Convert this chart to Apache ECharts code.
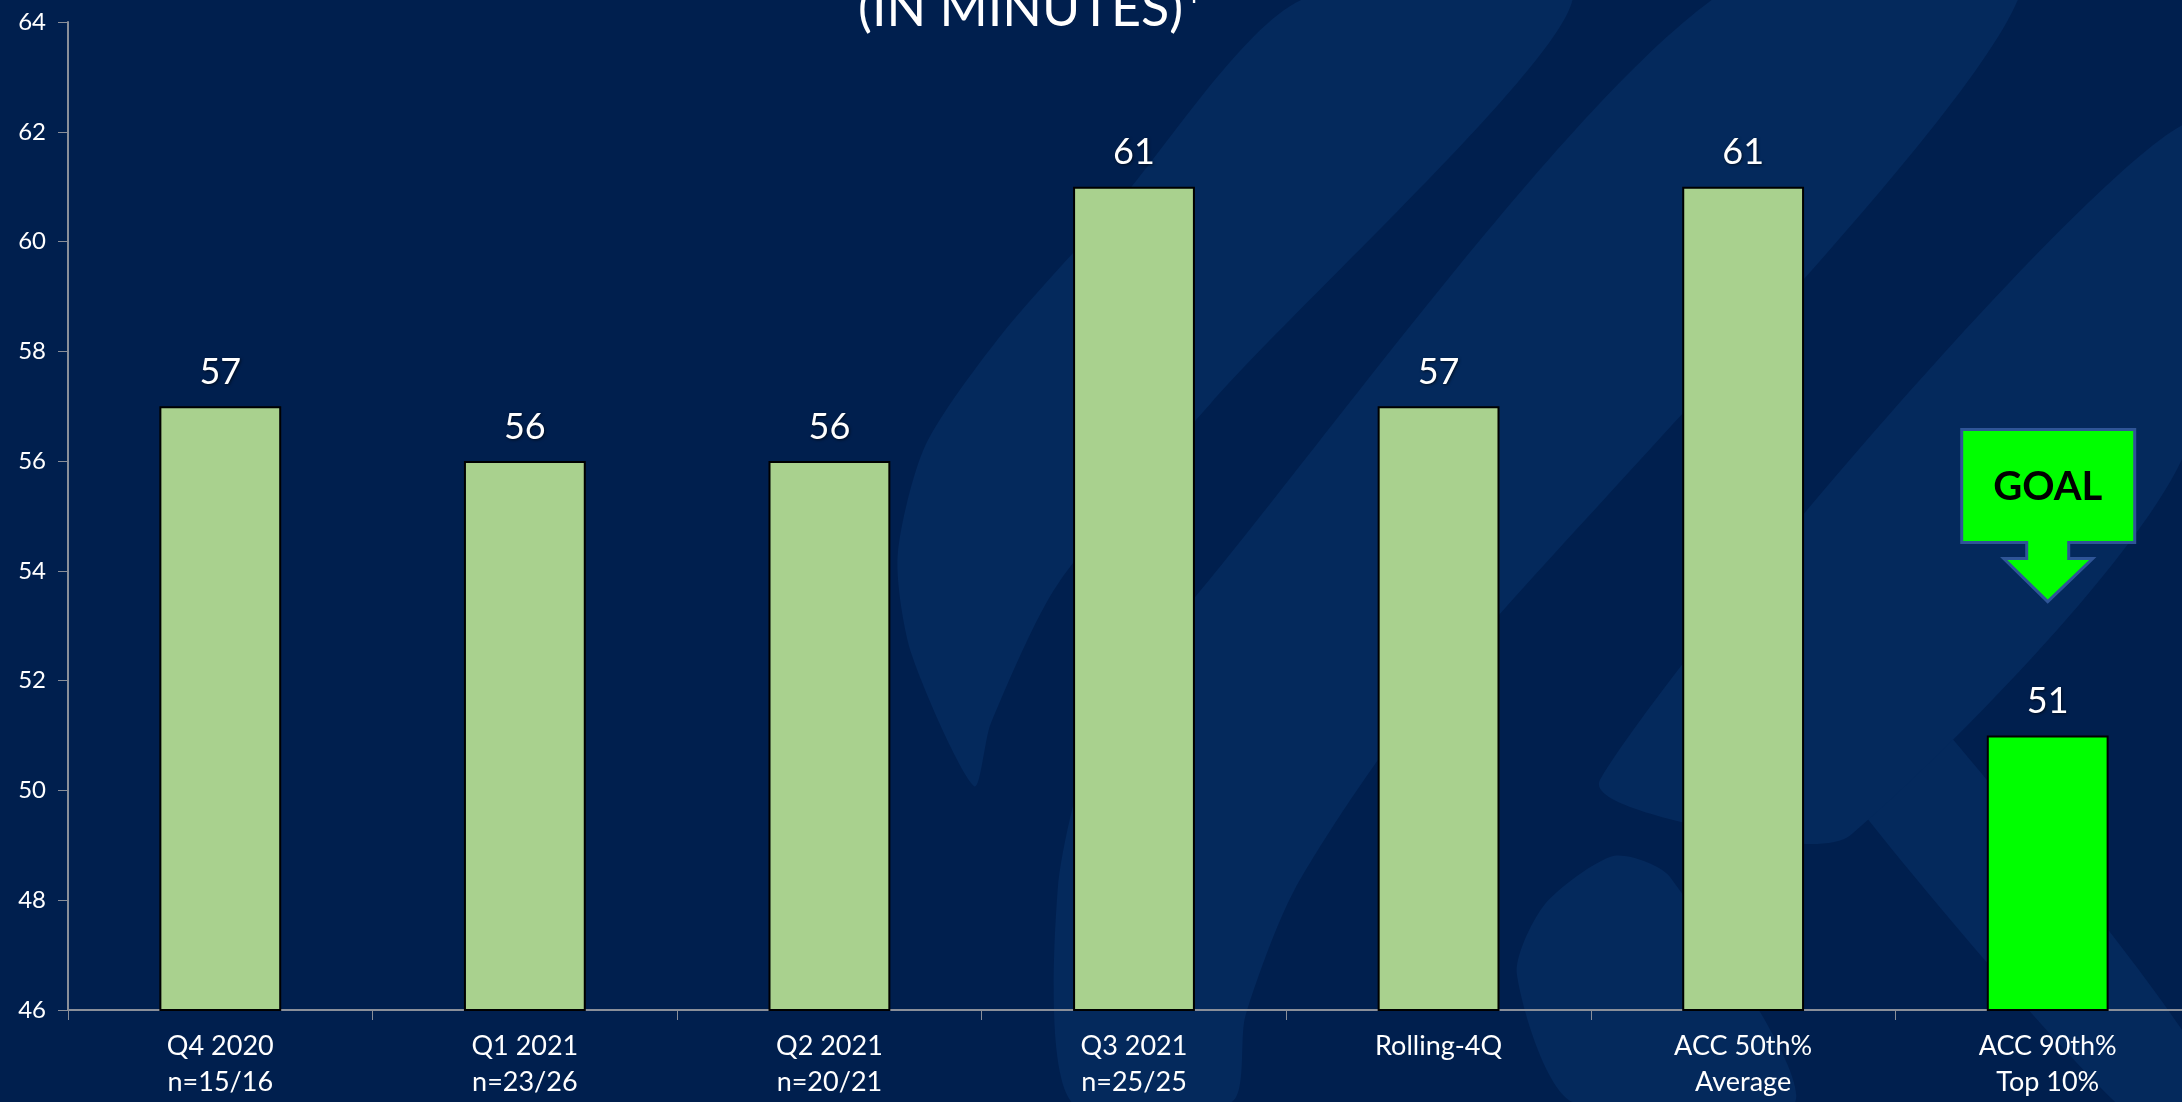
<!DOCTYPE html>
<html>
<head>
<meta charset="utf-8">
<script src="https://cdn.jsdelivr.net/npm/echarts@6/dist/echarts.min.js"></script>
<style>
html,body{margin:0;padding:0;background:#001f4e;}
#chart{width:2182px;height:1102px;}
</style>
</head>
<body>
<div id="chart"></div>
<script>
var categories = ['Q4 2020\nn=15/16', 'Q1 2021\nn=23/26', 'Q2 2021\nn=20/21', 'Q3 2021\nn=25/25', 'Rolling-4Q', 'ACC 50th%\nAverage', 'ACC 90th%\nTop 10%'];
var values = [57, 56, 56, 61, 57, 61, 51];
var barColors = ['#a9d18e', '#a9d18e', '#a9d18e', '#a9d18e', '#a9d18e', '#a9d18e', '#00ff00'];
var yMin = 46, yMax = 64, yStep = 2;
var titleText = '(IN MINUTES)*';
var goalText = 'GOAL';

var S = 2182 / 1568;
function sp(pts) { return pts.map(function (p) { return [p[0] * S, p[1] * S]; }); }
var bandColor = '#04295c';
var decor = [
  sp([[700,565],[655,470],[645,400],[665,320],[720,240],[800,150],[935,0],[1130,0],[870,290],[760,420],[712,520]]),
  sp([[770,792],[760,640],[790,520],[850,440],[1230,0],[1450,0],[1010,520],[930,640],[895,730],[885,792]]),
  sp([[1090,700],[1110,650],[1160,615],[1200,630],[1290,792],[1130,792]]),
  sp([[1290,520],[1300,480],[1330,462],[1360,480],[1568,740],[1568,792],[1520,792]]),
  sp([[1150,560],[1568,90],[1568,330],[1330,600],[1250,600]])
];

var chart = echarts.init(document.getElementById('chart'));
var FONT = 'Lato';

var option = {
  backgroundColor: '#001f4e',
  animation: false,
  graphic: decor.map(function (pts) {
    return { type: 'polygon', z: -10, silent: true, shape: { points: pts, smooth: 0.25 }, style: { fill: bandColor } };
  }).concat([{
    type: 'text', z: 10,
    style: { text: titleText, fill: '#ffffff', font: '52px ' + FONT, textAlign: 'left', textVerticalAlign: 'middle', x: 858, y: 9 }
  }]),
  grid: { left: 68, top: 22, width: 2132, height: 988, containLabel: false, outerBoundsMode: 'none' },
  xAxis: {
    type: 'category',
    data: categories,
    axisLine: { lineStyle: { color: '#8a8f99', width: 2 } },
    axisTick: { show: true, length: 10, lineStyle: { color: '#8a8f99', width: 1 } },
    axisLabel: { color: '#ffffff', fontFamily: FONT, fontSize: 27, lineHeight: 36, margin: 18, interval: 0 }
  },
  yAxis: {
    type: 'value', min: yMin, max: yMax, interval: yStep,
    splitLine: { show: false },
    axisLine: { show: true, lineStyle: { color: '#8a8f99', width: 2 } },
    axisTick: { show: true, length: 10, lineStyle: { color: '#8a8f99' } },
    axisLabel: { color: '#ffffff', fontFamily: FONT, fontSize: 24, margin: 22 }
  },
  series: [{
    type: 'bar',
    barWidth: '40%',
    data: values.map(function (v, i) {
      return { value: v, itemStyle: { color: barColors[i] } };
    }),
    itemStyle: { borderColor: '#000000', borderWidth: 2 },
    label: {
      show: true, position: 'top', distance: 16,
      color: '#ffffff', fontFamily: FONT, fontSize: 36,
      textShadowColor: 'rgba(0,0,0,0.6)', textShadowBlur: 3, textShadowOffsetX: 1, textShadowOffsetY: 1
    }
  }]
};
chart.setOption(option);

// GOAL arrow annotation placed over the last bar
var idx = values.length - 1;
var p = chart.convertToPixel({ seriesIndex: 0 }, [idx, values[idx]]);
var cx = p[0];
var barTop = p[1];
var boxBottom = barTop - 193, boxTop = boxBottom - 113;
var stemBottom = boxBottom + 16, tip = stemBottom + 43;
var arrowPts = [
  [cx - 86, boxTop], [cx + 87, boxTop], [cx + 87, boxBottom], [cx + 21, boxBottom],
  [cx + 21, stemBottom], [cx + 45, stemBottom], [cx, tip], [cx - 44, stemBottom],
  [cx - 21, stemBottom], [cx - 21, boxBottom], [cx - 86, boxBottom]
];
var g = option.graphic.concat([
  { type: 'polygon', z: 20, shape: { points: arrowPts }, style: { fill: '#00ff00', stroke: '#2f5597', lineWidth: 3 } },
  { type: 'text', z: 21, style: { text: goalText, x: cx, y: boxTop + 58, fill: '#000000', font: 'bold 40px ' + FONT, textAlign: 'center', textVerticalAlign: 'middle' } }
]);
chart.setOption({ graphic: g });
</script>
</body>
</html>
